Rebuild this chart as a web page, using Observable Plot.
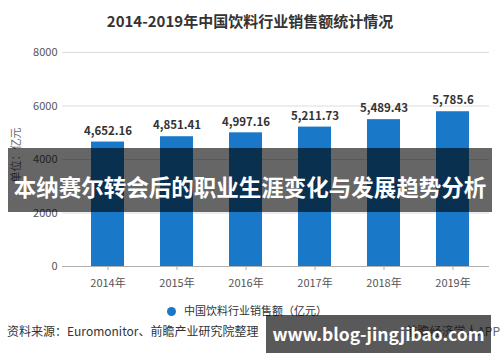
<!DOCTYPE html>
<html>
<head>
<meta charset="utf-8">
<script src="https://cdn.jsdelivr.net/npm/d3@7"></script>
<script src="https://cdn.jsdelivr.net/npm/@observablehq/plot@0.6"></script>
<style>
  html, body { margin: 0; padding: 0; background: #fff; }
  #wrap { position: relative; width: 500px; height: 362px; overflow: hidden; font-family: "Noto Sans CJK SC", "Noto Sans", sans-serif; }
  #title { position: absolute; left: 0; top: 10px; width: 500px; text-align: center; font-size: 15px; font-weight: bold; color: #333; line-height: 22px; }
  #chart { position: absolute; left: 0; top: 35px; }
  #ylabel { position: absolute; left: 15px; top: 155px; transform: translate(-50%, -50%) rotate(-90deg); font-size: 11px; color: #666; white-space: nowrap; }
  #legend { position: absolute; left: 167px; top: 302px; font-size: 11px; color: #333; line-height: 16px; white-space: nowrap; }
  #legend .dot { display: inline-block; width: 9px; height: 9px; border-radius: 50%; background: #1a78c8; margin-right: 8px; vertical-align: -1px; }
  #source { position: absolute; left: 7px; top: 322px; font-size: 12px; color: #333; line-height: 18px; white-space: nowrap; }
  #app { position: absolute; right: 0px; top: 322px; font-size: 12px; color: #666; line-height: 18px; white-space: nowrap; }
  #banner { position: absolute; left: 8px; top: 148px; width: 484px; height: 64px; background: rgba(0,0,0,0.6); }
  #bannertext { position: absolute; left: 0; top: 171px; width: 500px; text-align: center; font-size: 22.5px; font-weight: bold; color: #fff; line-height: 30px; white-space: nowrap; }
  #wm { position: absolute; left: 266px; top: 315px; width: 225px; height: 38px; background: rgba(0,0,0,0.65); color: #fff; font-weight: bold; font-size: 17.5px; line-height: 38px; text-align: center; white-space: nowrap; }
</style>
</head>
<body>
<div id="wrap">
  <div id="title"></div>
  <div id="chart"></div>
  <div id="ylabel"></div>
  <div id="legend"><span class="dot"></span><span id="legtext"></span></div>
  <div id="source"></div>
  <div id="app"></div>
  <div id="banner"></div>
  <div id="bannertext"></div>
  <div id="wm"></div>
</div>
<script>
const titleText = "2014-2019年中国饮料行业销售额统计情况";
const years = ["2014年", "2015年", "2016年", "2017年", "2018年", "2019年"];
const sales = [4652.16, 4851.41, 4997.16, 5211.73, 5489.43, 5785.6];
const yTicks = [0, 2000, 4000, 6000, 8000];
const yLabel = "单位：亿元";
const seriesName = "中国饮料行业销售额（亿元）";
const sourceText = "资料来源：Euromonitor、前瞻产业研究院整理";
const appText = "前瞻经济学人APP";
const bannerText = "本纳赛尔转会后的职业生涯变化与发展趋势分析";
const watermarkText = "www.blog-jingjibao.com";

const data = years.map((y, i) => ({year: y, value: sales[i]}));

document.getElementById("title").textContent = titleText;
document.getElementById("ylabel").textContent = yLabel;
document.getElementById("legtext").textContent = seriesName;
document.getElementById("source").textContent = sourceText;
document.getElementById("app").textContent = appText;
document.getElementById("bannertext").textContent = bannerText;
document.getElementById("wm").textContent = watermarkText;

const chart = Plot.plot({
  width: 500,
  height: 265,
  marginLeft: 70,
  marginRight: 11,
  marginTop: 17,
  marginBottom: 34,
  style: {fontFamily: "'Noto Sans CJK SC', sans-serif", fontSize: "11px", color: "#555", background: "transparent"},
  x: {domain: years, paddingInner: 0.527, paddingOuter: 0.2635, label: null},
  y: {domain: [0, 8000], label: null},
  marks: [
    Plot.ruleY(yTicks.filter(d => d > 0), {stroke: "#dcdcdc", insetLeft: -8}),
    Plot.barY(data, {x: "year", y: "value", fill: "#1a78c8"}),
    Plot.ruleY([0], {stroke: "#b0b0b0", insetLeft: -8}),
    Plot.axisX({tickSize: 4, tickPadding: 9, stroke: "#b0b0b0", fill: "#555"}),
    Plot.axisY({ticks: yTicks, tickSize: 0, tickPadding: 13, label: null, fill: "#555", tickFormat: d => String(d)}),
    Plot.text(data, {x: "year", y: "value", text: d => d3.format(",")(d.value), dy: -11, fontWeight: "bold", fontSize: 11.5, fill: "#333"})
  ]
});
document.getElementById("chart").appendChild(chart);
</script>
</body>
</html>
